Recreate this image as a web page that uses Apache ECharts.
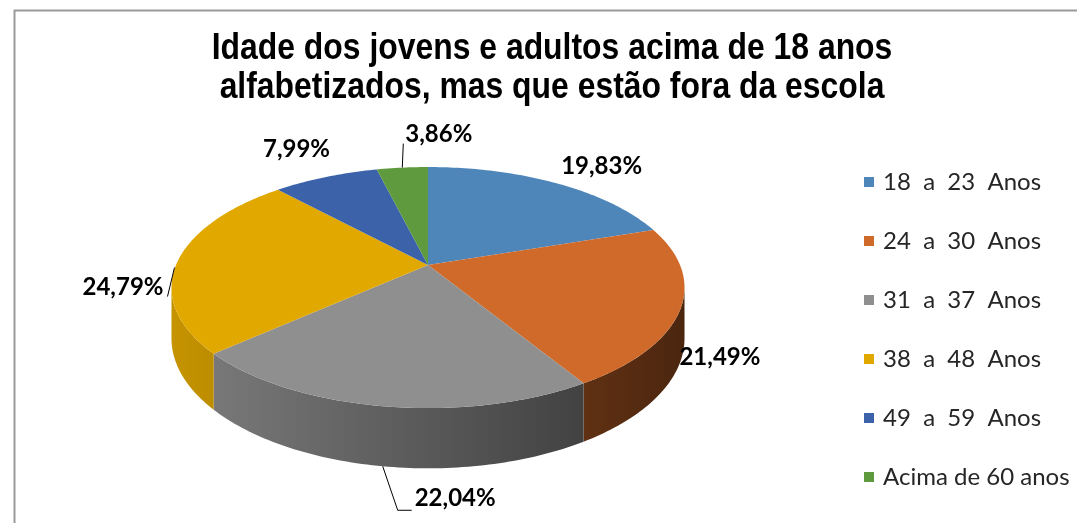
<!DOCTYPE html>
<html>
<head>
<meta charset="utf-8">
<script src="https://cdn.jsdelivr.net/npm/echarts@6/dist/echarts.min.js"></script>
<style>
  html, body { margin: 0; padding: 0; background: #fff; }
  #chart { width: 1077px; height: 523px; }
</style>
</head>
<body>
<div id="chart"></div>
<script>
// dados do gráfico
const categories = ['18  a  23  Anos', '24  a  30  Anos', '31  a  37  Anos', '38  a  48  Anos', '49  a  59  Anos', 'Acima de 60 anos'];
const values = [19.83, 21.49, 22.04, 24.79, 7.99, 3.86];
const colors = ['#4E86BA', '#D06A2A', '#8F8F8F', '#E1A800', '#3C62AA', '#5F9A3F'];
const titleLines = ['Idade dos jovens e adultos acima de 18 anos', 'alfabetizados, mas que estão fora da escola'];

// geometria da pizza 3D (perspectiva simples)
const CX = 428, CY = 265, RX = 252, RY = 116.3, K = 0.187, DEPTH = 49;
const WALL_FROM = Math.PI / 2 + Math.asin(K);
const WALL_TO = 3 * Math.PI / 2 - Math.asin(K);

// posição dos rótulos em relação à borda da fatia
const labelStyle = [
  { off: [46, -17], align: 'center' },
  { off: [39, -3], align: 'center' },
  { off: [32, 32], align: 'left', leader: [[0, 0], [15, 44], [29, 44]] },
  { off: [-15, 28], align: 'right', leader: [[-4, 8], [-11, 37]] },
  { off: [-29, -28], align: 'center' },
  { off: [3, -33], align: 'left', leader: [[0, 0], [1, -24]] }
];

const total = values.reduce((a, b) => a + b, 0);
const starts = [];
values.reduce((acc, v, i) => { starts[i] = acc; return acc + v; }, 0);

function proj(phi, f, drop) {
  const u = f * Math.sin(phi), w = f * Math.cos(phi);
  const s = 1 + K * w;
  return [CX + RX * u / s, CY - RY * w / s + (drop ? DEPTH / s : 0)];
}

function shade(hex, t) {
  const n = parseInt(hex.slice(1), 16);
  const r = Math.round(((n >> 16) & 255) * t);
  const g = Math.round(((n >> 8) & 255) * t);
  const b = Math.round((n & 255) * t);
  return 'rgb(' + r + ',' + g + ',' + b + ')';
}

function arc(a0, a1, drop) {
  const pts = [];
  const steps = Math.max(2, Math.ceil((a1 - a0) / (Math.PI / 180)));
  for (let j = 0; j <= steps; j++) {
    pts.push(proj(a0 + (a1 - a0) * j / steps, 1, drop));
  }
  return pts;
}

function makeRender(i) {
  return function (params, api) {
    const v = api.value(0);
    const a0 = starts[i] / total * Math.PI * 2;
    const a1 = (starts[i] + v) / total * Math.PI * 2;
    const children = [];

    // parede lateral (apenas a parte da frente)
    const w0 = Math.max(a0, WALL_FROM), w1 = Math.min(a1, WALL_TO);
    if (w1 > w0) {
      const pts = arc(w0, w1, false).concat(arc(w0, w1, true).reverse());
      children.push({
        type: 'polygon',
        z2: 1,
        shape: { points: pts },
        style: {
          fill: new echarts.graphic.LinearGradient(CX - RX * 1.02, 0, CX + RX * 1.02, 0, [
            { offset: 0, color: shade(colors[i], 0.88) },
            { offset: 1, color: shade(colors[i], 0.36) }
          ], true)
        }
      });
    }

    // face superior
    children.push({
      type: 'polygon',
      z2: 5,
      shape: { points: [[CX, CY]].concat(arc(a0, a1, false)) },
      style: { fill: colors[i] }
    });

    // rótulo
    const mid = (a0 + a1) / 2;
    const front = Math.cos(mid) < -K;
    const rim = proj(mid, 1, front);
    const ls = labelStyle[i];
    if (ls.leader) {
      children.push({
        type: 'polyline',
        z2: 8,
        shape: { points: ls.leader.map(p => [rim[0] + p[0], rim[1] + p[1]]) },
        style: { stroke: '#000', lineWidth: 1, fill: null }
      });
    }
    children.push({
      type: 'text',
      z2: 10,
      x: rim[0] + ls.off[0],
      y: rim[1] + ls.off[1],
      style: {
        text: v.toFixed(2).replace('.', ',') + '%',
        align: ls.align,
        verticalAlign: 'middle',
        fill: '#000',
        font: 'bold 24px Lato'
      }
    });

    return { type: 'group', children: children };
  };
}

const chart = echarts.init(document.getElementById('chart'));

const option = {
  animation: false,
  backgroundColor: '#fff',
  legend: {
    orient: 'vertical',
    left: 859,
    top: 165,
    icon: 'rect',
    itemWidth: 10,
    itemHeight: 10,
    itemGap: 35,
    data: categories,
    textStyle: { fontFamily: 'Lato', fontSize: 24, lineHeight: 24, color: '#262626', padding: [0, 0, 0, 4] }
  },
  graphic: [{
    type: 'rect',
    shape: { x: 14.5, y: 10.5, width: 1100, height: 600 },
    style: { fill: null, stroke: '#9a9a9a', lineWidth: 2 },
    silent: true
  }, {
    // título (fonte estreita, como Arial Narrow)
    type: 'text',
    x: 552,
    y: 30,
    scaleX: 0.886,
    style: {
      text: titleLines.join('\n'),
      align: 'center',
      verticalAlign: 'top',
      font: 'bold 36px "Liberation Sans"',
      lineHeight: 39,
      fill: '#000'
    }
  }],
  series: categories.map((name, i) => ({
    type: 'custom',
    name: name,
    coordinateSystem: 'none',
    itemStyle: { color: colors[i] },
    data: [[values[i]]],
    renderItem: makeRender(i)
  }))
};

chart.setOption(option);
</script>
</body>
</html>
